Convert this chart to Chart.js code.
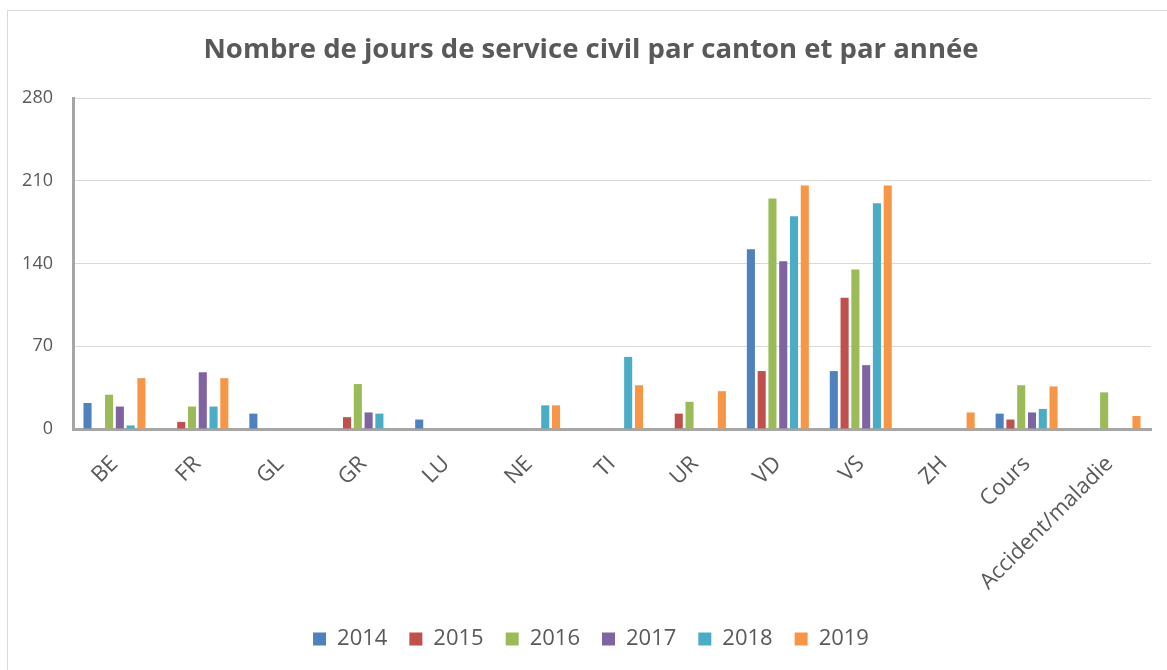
<!DOCTYPE html>
<html lang="fr">
<head>
  <meta charset="UTF-8">
  <title>Nombre de jours de service civil par canton et par année</title>
  <script src="https://cdn.jsdelivr.net/npm/chart.js"></script>
  <style>
    body {
      margin: 0;
      background-color: #ffffff;
      font-family: "Open Sans", sans-serif;
      overflow: hidden;
    }
    #frame {
      position: absolute;
      left: 7px;
      top: 10px;
      width: 1200px;
      height: 700px;
      border: 1px solid #d9d9d9;
    }
    #chart-container {
      position: absolute;
      left: 0;
      top: 0;
      width: 1167px;
      height: 670px;
    }
  </style>
</head>
<body>

<div id="frame"></div>
<div id="chart-container">
  <canvas id="barChart"></canvas>
</div>

<script>
  // categories (cantons + extra rows)
  const cantons = ['BE', 'FR', 'GL', 'GR', 'LU', 'NE', 'TI', 'UR', 'VD', 'VS', 'ZH', 'Cours', 'Accident/maladie'];

  // days per year (null = no bar)
  const days2014 = [22, null, 13, null, 8, null, null, null, 152, 49, null, 13, null];
  const days2015 = [null, 6, null, 10, null, null, null, 13, 49, 111, null, 8, null];
  const days2016 = [29, 19, null, 38, null, null, null, 23, 195, 135, null, 37, 31];
  const days2017 = [19, 48, null, 14, null, null, null, null, 142, 54, null, 14, null];
  const days2018 = [3, 19, null, 13, null, 20, 61, null, 180, 191, null, 17, null];
  const days2019 = [43, 43, null, null, null, 20, 37, 32, 206, 206, 14, 36, 11];

  const yTicks = [0, 70, 140, 210, 280];

  const textColor = '#595959';

  const ctx = document.getElementById('barChart').getContext('2d');
  new Chart(ctx, {
    type: 'bar',
    data: {
      labels: cantons,
      datasets: [
        { label: '2014', data: days2014, backgroundColor: '#4F81BD' },
        { label: '2015', data: days2015, backgroundColor: '#C0504D' },
        { label: '2016', data: days2016, backgroundColor: '#9BBB59' },
        { label: '2017', data: days2017, backgroundColor: '#8064A2' },
        { label: '2018', data: days2018, backgroundColor: '#4BACC6' },
        { label: '2019', data: days2019, backgroundColor: '#F79646' }
      ]
    },
    options: {
      responsive: true,
      maintainAspectRatio: false,
      animation: false,
      categoryPercentage: 0.78,
      barPercentage: 0.75,
      layout: {
        // title + legend sit a bit right of centre in the original
        padding: { left: 15, right: 0, top: 0, bottom: 10 }
      },
      plugins: {
        title: {
          display: true,
          text: 'Nombre de jours de service civil par canton et par année',
          color: textColor,
          font: { family: '"Open Sans", sans-serif', size: 27.5, weight: 'bold' },
          padding: { top: 34, bottom: 31 }
        },
        legend: {
          position: 'bottom',
          labels: {
            color: textColor,
            boxWidth: 13,
            boxHeight: 13,
            padding: 22,
            font: { family: '"Open Sans", sans-serif', size: 22 }
          }
        },
        tooltip: { enabled: false }
      },
      scales: {
        x: {
          grid: { display: false },
          border: { display: true, color: '#a6a6a6', width: 3 },
          ticks: {
            color: textColor,
            minRotation: 45,
            maxRotation: 45,
            padding: 14,
            font: { family: '"Open Sans", sans-serif', size: 22 }
          },
          afterFit: function (scale) {
            scale.height = 177;
          }
        },
        y: {
          min: 0,
          max: 280,
          afterBuildTicks: function (scale) {
            scale.ticks = yTicks.map(function (v) { return { value: v }; });
          },
          grid: { color: '#d9d9d9', lineWidth: 1, drawTicks: false },
          border: { display: true, color: '#a6a6a6', width: 3 },
          ticks: {
            color: textColor,
            padding: 20,
            font: { family: '"Open Sans", sans-serif', size: 18 }
          },
          afterFit: function (scale) {
            scale.width = 58;
          }
        },
        // empty right axis, only keeps a margin at the right of the plot
        yRight: {
          position: 'right',
          min: 0,
          max: 280,
          grid: { display: false, drawTicks: false },
          border: { display: false },
          ticks: { display: false },
          afterFit: function (scale) {
            scale.width = 16;
          }
        }
      }
    }
  });
</script>
</body>
</html>
